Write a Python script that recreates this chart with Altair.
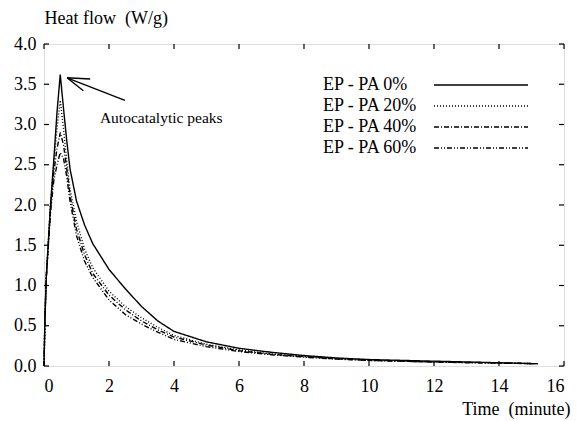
import altair as alt
import pandas as pd

# ---- data ----
time = [0, 0.03, 0.07, 0.2, 0.3, 0.4, 0.5, 0.6, 0.7, 0.8, 1.0, 1.25, 1.5, 2.0, 2.5,
        3.0, 3.5, 4.0, 5, 6, 7, 8, 9, 10, 11, 12, 13, 14, 15, 15.2]
pa0 = [0, 0.6, 1.1, 2.0, 2.55, 3.15, 3.62, 3.2, 2.8, 2.45, 2.05, 1.75, 1.52, 1.2, 0.96,
       0.74, 0.56, 0.43, 0.30, 0.22, 0.17, 0.13, 0.10, 0.08, 0.07, 0.06, 0.05, 0.04, 0.03, 0.03]
pa20 = [0, 0.6, 1.1, 2.0, 2.5, 2.95, 3.3, 2.95, 2.55, 2.2, 1.8, 1.45, 1.22, 0.93, 0.74,
        0.6, 0.48, 0.38, 0.27, 0.2, 0.15, 0.12, 0.09, 0.075, 0.06, 0.05, 0.045, 0.04, 0.03, 0.03]
pa40 = [0, 0.6, 1.1, 1.95, 2.4, 2.7, 2.9, 2.75, 2.45, 2.12, 1.7, 1.38, 1.15, 0.88, 0.7,
        0.56, 0.45, 0.36, 0.26, 0.19, 0.145, 0.115, 0.09, 0.07, 0.06, 0.05, 0.045, 0.04, 0.03, 0.03]
pa60 = [0, 0.6, 1.1, 1.9, 2.3, 2.5, 2.65, 2.58, 2.35, 2.05, 1.62, 1.3, 1.1, 0.82, 0.64,
        0.52, 0.42, 0.33, 0.24, 0.18, 0.14, 0.11, 0.085, 0.07, 0.06, 0.05, 0.04, 0.035, 0.03, 0.03]
series_names = ["EP - PA 0%", "EP - PA 20%", "EP - PA 40%", "EP - PA 60%"]
series_values = [pa0, pa20, pa40, pa60]

x_ticks = [0, 2, 4, 6, 8, 10, 12, 14, 16]
y_ticks = [0.0, 0.5, 1.0, 1.5, 2.0, 2.5, 3.0, 3.5, 4.0]

ann_text = ["Autocatalytic peaks"]
ann_x = [1.72]
ann_y = [3.08]
# arrow: tip and the ends of shaft and two barbs
arrow_tip_x = [0.71, 0.71, 0.71]
arrow_tip_y = [3.58, 3.58, 3.58]
arrow_end_x = [2.49, 1.42, 1.21]
arrow_end_y = [3.30, 3.565, 3.42]

# ---- build tables ----
rows = []
for name, vals in zip(series_names, series_values):
    for t, v in zip(time, vals):
        rows.append({"time": t, "flow": v, "series": name})
df = pd.DataFrame(rows)
leg_df = pd.DataFrame({"series": series_names})
xt_df = pd.DataFrame({"t": x_ticks})
yt_df = pd.DataFrame({"v": y_ticks})
ann_df = pd.DataFrame({"x": ann_x, "y": ann_y, "text": ann_text})
arr_df = pd.DataFrame({"x": arrow_tip_x, "y": arrow_tip_y, "x2": arrow_end_x, "y2": arrow_end_y})

W, H = 520, 322
FONT = "Liberation Serif"
FS = 18
xscale = alt.Scale(domain=[0, 16], nice=False, zero=False)
yscale = alt.Scale(domain=[0, 4], nice=False, zero=False)
dash_scale = alt.Scale(domain=series_names,
                       range=[[1, 0], [1, 2], [5, 2, 1, 2], [5, 2, 1, 2, 1, 2]])

lines = alt.Chart(df).mark_line(color="black", strokeWidth=1.4).encode(
    x=alt.X("time:Q", scale=xscale,
            axis=alt.Axis(values=x_ticks, format="d", domain=False, ticks=False, grid=False,
                          labelFont=FONT, labelFontSize=FS, labelColor="black", labelPadding=11,
                          title="Time\u00a0\u00a0(minute)", titleFont=FONT, titleFontSize=FS,
                          titleFontWeight="normal", titleColor="black", titleAlign="right",
                          titleAnchor="end", titleX=526, titleY=48, titleBaseline="alphabetic")),
    y=alt.Y("flow:Q", scale=yscale,
            axis=alt.Axis(values=y_ticks, format=".1f", domain=False, ticks=False, grid=False,
                          labelFont=FONT, labelFontSize=FS, labelColor="black", labelPadding=8,
                          title="Heat flow\u00a0\u00a0(W/g)", titleFont=FONT, titleFontSize=FS,
                          titleFontWeight="normal", titleColor="black", titleAngle=0,
                          titleAlign="left", titleX=0, titleY=-21, titleBaseline="alphabetic")),
    strokeDash=alt.StrokeDash("series:N", scale=dash_scale, legend=None),
    detail="series:N",
)

tick_len = 5
bottom_ticks = alt.Chart(xt_df).mark_rule(color="black", strokeWidth=1.2).encode(
    x=alt.X("t:Q", scale=xscale), y=alt.value(H), y2=alt.value(H - tick_len))
top_ticks = alt.Chart(xt_df).mark_rule(color="black", strokeWidth=1.2).encode(
    x=alt.X("t:Q", scale=xscale), y=alt.value(0), y2=alt.value(tick_len))
left_ticks = alt.Chart(yt_df).mark_rule(color="black", strokeWidth=1.2).encode(
    y=alt.Y("v:Q", scale=yscale, axis=None), x=alt.value(0), x2=alt.value(tick_len))
right_ticks = alt.Chart(yt_df).mark_rule(color="black", strokeWidth=1.2).encode(
    y=alt.Y("v:Q", scale=yscale, axis=None), x=alt.value(W), x2=alt.value(W - tick_len))

leg_y = alt.Y("series:N", scale=alt.Scale(type="point", domain=series_names,
                                          range=[41, 104], padding=0), axis=None)
leg_text = alt.Chart(leg_df).mark_text(align="left", baseline="middle", font=FONT,
                                       fontSize=FS, color="black").encode(
    x=alt.value(279), y=leg_y, text="series:N")
leg_lines = alt.Chart(leg_df).mark_rule(color="black", strokeWidth=1.4).encode(
    x=alt.value(390), x2=alt.value(484), y=leg_y,
    strokeDash=alt.StrokeDash("series:N", scale=dash_scale, legend=None))

ann = alt.Chart(ann_df).mark_text(align="left", baseline="middle", font=FONT,
                                  fontSize=15.5, color="black").encode(
    x=alt.X("x:Q", scale=xscale), y=alt.Y("y:Q", scale=yscale, axis=None), text="text:N")
arrow = alt.Chart(arr_df).mark_rule(color="black", strokeWidth=1.4).encode(
    x=alt.X("x:Q", scale=xscale), y=alt.Y("y:Q", scale=yscale, axis=None),
    x2="x2:Q", y2="y2:Q")

chart = alt.layer(
    lines, bottom_ticks, top_ticks, left_ticks, right_ticks, ann, arrow, leg_text, leg_lines
).resolve_scale(y="independent").properties(
    width=W, height=H,
    autosize=alt.AutoSizeParams(type="none"),
    padding={"left": 44, "top": 44, "right": 17, "bottom": 55},
).configure_view(stroke="black", strokeWidth=1.6).configure(background="white")

chart.save("out.html", embed_options={"renderer": "svg", "actions": False})
